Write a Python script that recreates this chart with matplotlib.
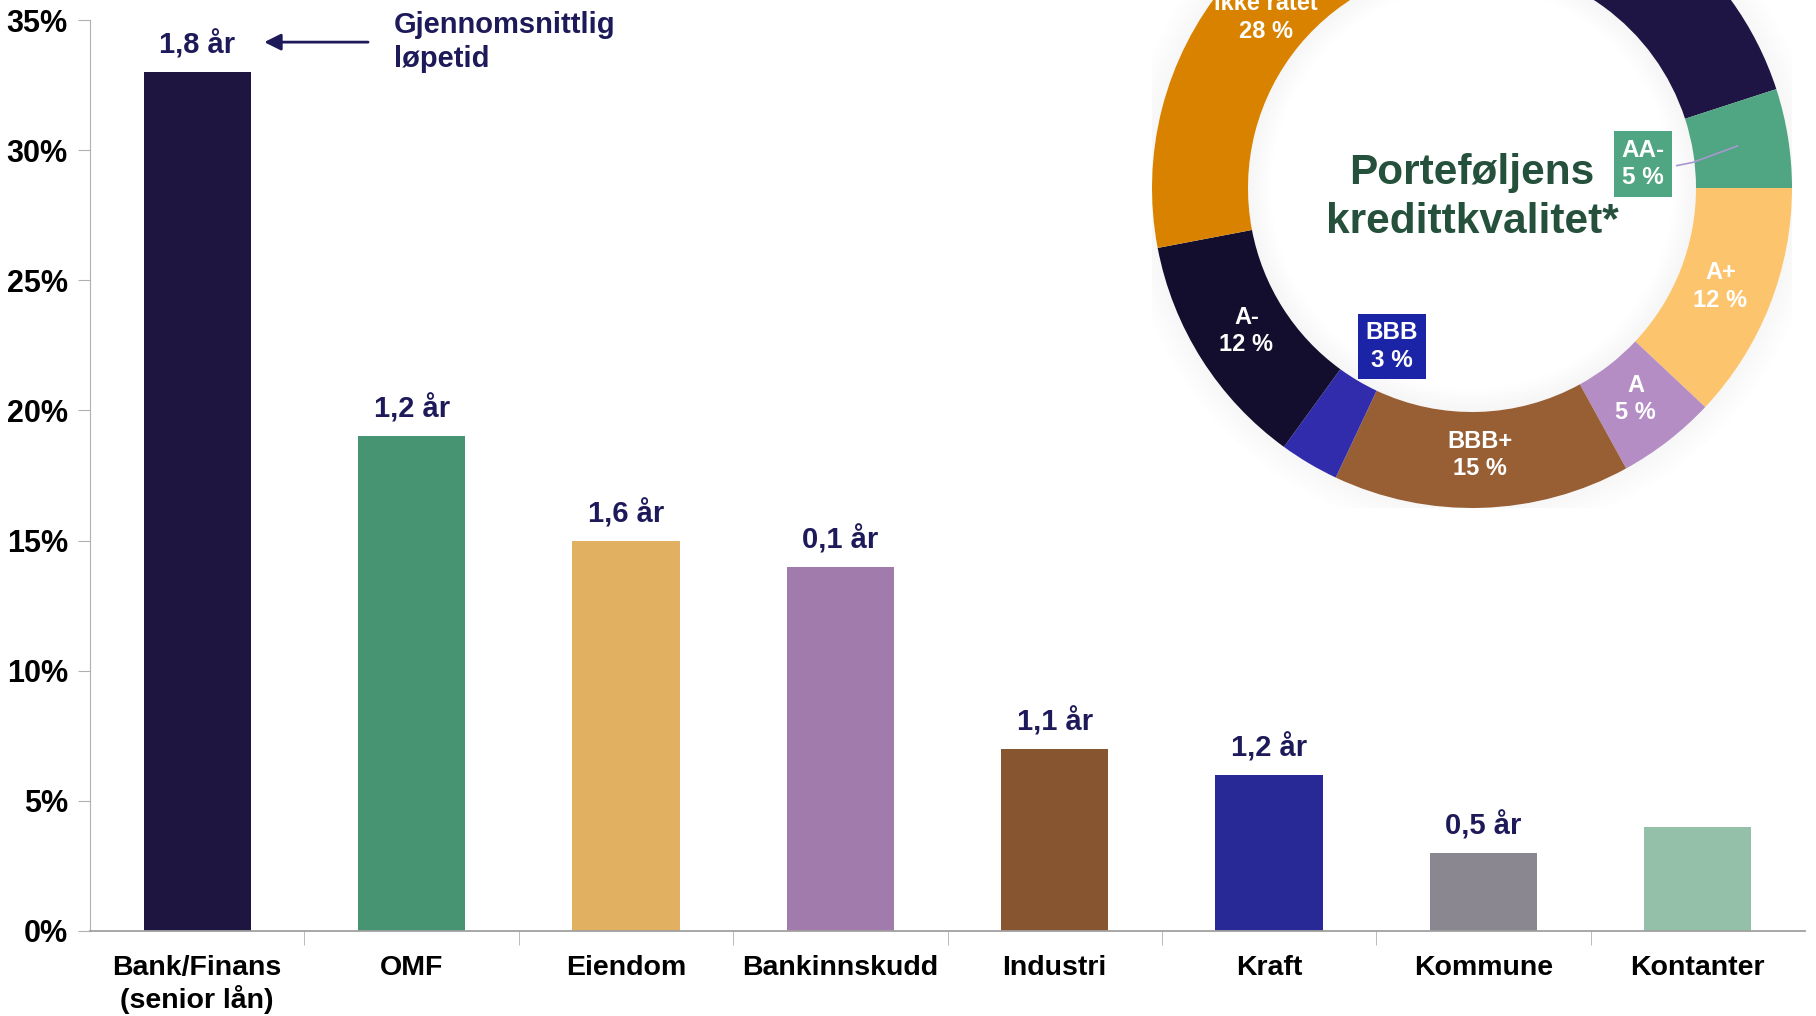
import numpy as np
import matplotlib.pyplot as plt
from matplotlib.patches import Wedge

plt.rcParams['font.family'] = ['Liberation Sans', 'DejaVu Sans']
plt.rcParams['font.weight'] = 'bold'

# bar data
sectors = ["Bank/Finans\n(senior lån)", "OMF", "Eiendom", "Bankinnskudd",
           "Industri", "Kraft", "Kommune", "Kontanter"]
shares = [33, 19, 15, 14, 7, 6, 3, 4]
duration = ["1,8 år", "1,2 år", "1,6 år", "0,1 år", "1,1 år", "1,2 år", "0,5 år", ""]
bar_colors = ["#1e1540", "#479473", "#e2b061", "#a07bac",
              "#87552f", "#282997", "#8a8790", "#94bfa9"]

# donut data
ratings = ["AA", "AA-", "A+", "A", "BBB+", "BBB", "A-", "Ikke ratet"]
rating_pct = [20, 5, 12, 5, 15, 3, 12, 28]
rating_colors = ["#1e1545", "#50a583", "#fdc46e", "#b38dc4",
                 "#985f35", "#312cab", "#130d2e", "#d98200"]
# boxed labels sit inside the hole: colour, (x, y) in donut units
boxed = {"AA-": ("#50a583", (0.535, 0.075)), "BBB": ("#1b23a6", (-0.25, -0.495))}

navy = "#1e1a5a"
W, H = 1816, 1016
fig = plt.figure(figsize=(W / 100, H / 100), dpi=100)

ax = fig.add_axes([90 / W, 85 / H, (1805 - 90) / W, (931 - 20) / H])
x = np.arange(len(sectors))
ax.bar(x, np.array(shares) / 100, width=0.5, color=bar_colors, zorder=2)
for xi, v, d in zip(x, shares, duration):
    if d:
        ax.annotate(d, (xi, v / 100), xytext=(0, 9), textcoords="offset points",
                    ha="center", va="bottom", fontsize=21, color=navy)

ax.set_xlim(-0.5, 7.5)
ax.set_ylim(0, 0.35)
ax.set_yticks(np.arange(0, 0.351, 0.05))
ax.set_yticklabels([f"{int(round(t * 100))}%" for t in np.arange(0, 0.351, 0.05)])
ax.set_xticks(x)
ax.set_xticklabels(sectors)
ax.set_xticks(np.arange(0.5, 7, 1), minor=True)
ax.tick_params(axis="x", which="major", length=0, pad=17, labelsize=20.5)
ax.tick_params(axis="x", which="minor", length=10, color="#b0b0b0", direction="out")
ax.tick_params(axis="y", length=9, color="#b0b0b0", pad=7, labelsize=22)
for s in ["top", "right"]:
    ax.spines[s].set_visible(False)
ax.spines["left"].set_color("#b0b0b0")
ax.spines["bottom"].set_color("#a0a0a0")
ax.spines["bottom"].set_linewidth(1.3)

ax.annotate("", xy=(0.30, 0.3415), xytext=(0.81, 0.3415),
            arrowprops=dict(arrowstyle="-|>", color=navy, lw=2, mutation_scale=25))
ax.text(0.918, 0.3415, "Gjennomsnittlig\nløpetid", fontsize=21, color=navy,
        ha="left", va="center", linespacing=1.3)

# donut
cx, cy, R = 1472, 188, 320
ax2 = fig.add_axes([(cx - R) / W, (H - cy - R) / H, 2 * R / W, 2 * R / H])
# soft shadow
for i in range(12):
    ax2.add_patch(Wedge((0, 0), 1.0 + 0.007 * (i + 1), 0, 360, width=0.007,
                        color="#808080", alpha=0.06 * (1 - i / 12), lw=0))
    ax2.add_patch(Wedge((0, 0), 0.70 - 0.006 * i, 0, 360, width=0.006,
                        color="#808080", alpha=0.07 * (1 - i / 12), lw=0))
wedges, _ = ax2.pie(rating_pct, colors=rating_colors, startangle=90, counterclock=False,
                    radius=1.0, wedgeprops=dict(width=0.3, linewidth=0))
for w, lab, p in zip(wedges, ratings, rating_pct):
    ang = np.deg2rad((w.theta1 + w.theta2) / 2)
    txt = f"{lab}\n{p} %"
    if lab == "AA":
        continue
    if lab in boxed:
        fc, (bx, by) = boxed[lab]
        ax2.text(bx, by, txt, ha="center", va="center",
                 fontsize=17.5, color="white", linespacing=1.25,
                 bbox=dict(boxstyle="square,pad=0.3", fc=fc, ec="none"))
        if lab == "AA-":
            ax2.plot([0.64, 0.69, 0.84 * np.cos(ang)], [0.07, 0.08, 0.84 * np.sin(ang)],
                     color="#a898d0", lw=1.2)
    else:
        r = 0.835
        ax2.text(r * np.cos(ang), r * np.sin(ang), txt, ha="center", va="center",
                 fontsize=17, color="white", linespacing=1.25)
ax2.text(0, -0.03, "Porteføljens\nkredittkvalitet*", ha="center", va="center",
         fontsize=30.5, color="#24503c", linespacing=1.3)
ax2.set_xlim(-1, 1)
ax2.set_ylim(-1, 1)
ax2.axis("off")

fig.savefig("out.png", dpi=100)
